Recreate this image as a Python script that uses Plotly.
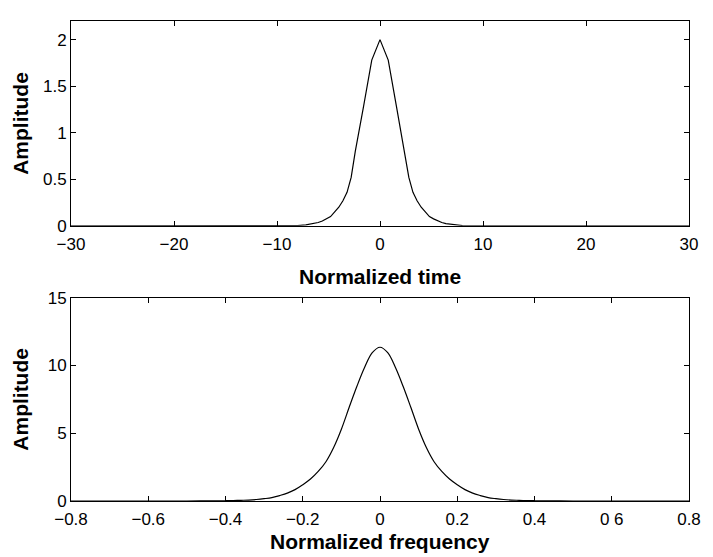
import plotly.graph_objects as go
from plotly.subplots import make_subplots

# ---- data ----
time_t = [-30, -9.6, -8.8, -8.0, -7.2, -6.4, -6.0, -5.6, -5.2, -4.8, -4.4, -4.0, -3.6, -3.2, -2.8,
          -2.4, -1.6, -0.8, 0.0, 0.8, 1.6, 2.4,
          2.8, 3.2, 3.6, 4.0, 4.4, 4.8, 5.2, 5.6, 6.0, 6.4, 7.2, 8.0, 8.8, 9.6, 30]
time_amp = [0.0, 0.0, 0.001, 0.004, 0.01, 0.024, 0.036, 0.052, 0.075, 0.10, 0.15, 0.20, 0.27, 0.36, 0.52,
            0.80, 1.28, 1.78, 2.0, 1.78, 1.28, 0.80,
            0.52, 0.36, 0.27, 0.20, 0.15, 0.10, 0.075, 0.052, 0.036, 0.024, 0.01, 0.004, 0.001, 0.0, 0.0]

freq_f = [-0.8, -0.5, -0.45, -0.40, -0.38, -0.36, -0.34, -0.32, -0.30, -0.28, -0.26, -0.24,
          -0.22, -0.20, -0.18, -0.16, -0.14, -0.12, -0.10, -0.08, -0.06, -0.04, -0.02, 0.0,
          0.02, 0.04, 0.06, 0.08, 0.10, 0.12, 0.14, 0.16, 0.18, 0.20, 0.22, 0.24, 0.26,
          0.28, 0.30, 0.32, 0.34, 0.36, 0.38, 0.40, 0.45, 0.5, 0.8]
freq_amp = [0.0, 0.0, 0.01, 0.02, 0.03, 0.05, 0.07, 0.11, 0.17, 0.25, 0.40, 0.58,
            0.84, 1.20, 1.62, 2.18, 2.90, 3.95, 5.30, 6.90, 8.45, 9.85, 10.95, 11.35,
            10.95, 9.85, 8.45, 6.90, 5.30, 3.95, 2.90, 2.18, 1.62, 1.20, 0.84, 0.58, 0.40,
            0.25, 0.17, 0.11, 0.07, 0.05, 0.03, 0.02, 0.01, 0.0, 0.0]

time_ticks = [-30, -20, -10, 0, 10, 20, 30]
time_tick_text = ["\u221230", "\u221220", "\u221210", "0", "10", "20", "30"]
amp_top_ticks = [0, 0.5, 1, 1.5, 2]
amp_top_text = ["0", "0.5", "1", "1.5", "2"]
freq_ticks = [-0.8, -0.6, -0.4, -0.2, 0, 0.2, 0.4, 0.6, 0.8]
freq_tick_text = ["\u22120.8", "\u22120.6", "\u22120.4", "\u22120.2", "0", "0.2", "0.4", "0 6", "0.8"]
amp_bot_ticks = [0, 5, 10, 15]
amp_bot_text = ["0", "5", "10", "15"]

FONT = "Liberation Sans, Arial, Helvetica, sans-serif"

fig = make_subplots(rows=2, cols=1)
fig.add_trace(go.Scatter(x=time_t, y=time_amp, mode="lines",
                         line=dict(color="black", width=1.2)), row=1, col=1)
fig.add_trace(go.Scatter(x=freq_f, y=freq_amp, mode="lines", line_shape="spline",
                         line=dict(color="black", width=1.2)), row=2, col=1)

axis_common = dict(showline=True, linecolor="black", linewidth=1, mirror="ticks",
                   ticks="inside", ticklen=5, tickcolor="black", tickwidth=1,
                   showgrid=False, zeroline=False,
                   tickfont=dict(family=FONT, size=17, color="black"))

fig.update_xaxes(range=[-30, 30], tickvals=time_ticks, ticktext=time_tick_text,
                 domain=[0, 1], ticklabelstandoff=3, **axis_common, row=1, col=1)
fig.update_yaxes(range=[0, 2.2], tickvals=amp_top_ticks, ticktext=amp_top_text,
                 domain=[0.5732, 1], **axis_common, row=1, col=1)
fig.update_xaxes(range=[-0.8, 0.8], tickvals=freq_ticks, ticktext=freq_tick_text,
                 domain=[0, 1], ticklabelstandoff=3, **axis_common, row=2, col=1)
fig.update_yaxes(range=[0, 15], tickvals=amp_bot_ticks, ticktext=amp_bot_text,
                 domain=[0, 0.4233], **axis_common, row=2, col=1)

title_font = dict(family=FONT, size=21, color="black")
annotations = [
    dict(text="<b>Normalized time</b>", x=0.5, y=0.4683, xref="paper", yref="paper",
         xanchor="center", yanchor="middle", showarrow=False, font=title_font),
    dict(text="<b>Normalized frequency</b>", x=0.5, y=-0.1125, xref="paper", yref="paper",
         xanchor="center", yanchor="bottom", showarrow=False, font=title_font),
    dict(text="<b>Amplitude</b>", x=-0.082, y=0.7865, xref="paper", yref="paper",
         xanchor="center", yanchor="middle", textangle=-90, showarrow=False, font=title_font),
    dict(text="<b>Amplitude</b>", x=-0.082, y=0.2117, xref="paper", yref="paper",
         xanchor="center", yanchor="middle", textangle=-90, showarrow=False, font=title_font),
]

fig.update_layout(width=713, height=557, margin=dict(l=71, r=17, t=12, b=56),
                  paper_bgcolor="white", plot_bgcolor="white", showlegend=False,
                  annotations=annotations)

fig.write_html("out.html")
